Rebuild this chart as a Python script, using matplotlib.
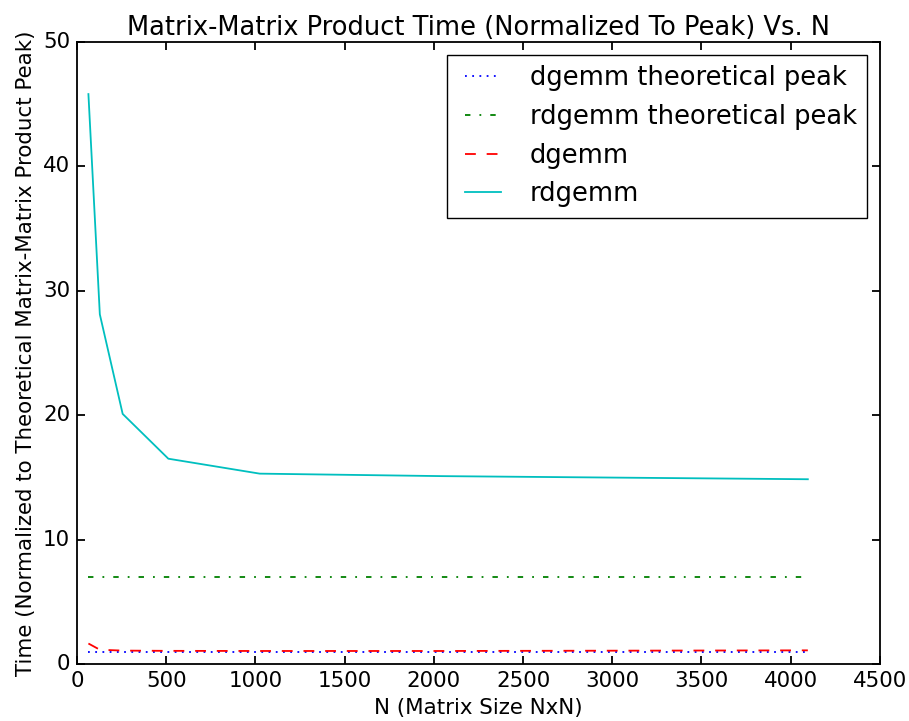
import matplotlib
matplotlib.use('Agg')
import matplotlib.pyplot as plt

plt.style.use('classic')
plt.rcParams['lines.scale_dashes'] = True
plt.rcParams['axes.linewidth'] = 1.3
plt.rcParams['xtick.major.size'] = 5.5
plt.rcParams['ytick.major.size'] = 5.5
plt.rcParams['xtick.major.width'] = 1.3
plt.rcParams['ytick.major.width'] = 1.3
plt.rcParams['xtick.major.pad'] = 5
plt.rcParams['ytick.major.pad'] = 5

# matrix sizes
n = [64, 128, 256, 512, 1024, 2048, 4096]

# time normalized to theoretical dgemm peak
dgemm_peak = [1.0, 1.0, 1.0, 1.0, 1.0, 1.0, 1.0]
rdgemm_peak = [7.0, 7.0, 7.0, 7.0, 7.0, 7.0, 7.0]
dgemm = [1.65, 1.15, 1.08, 1.06, 1.05, 1.05, 1.1]
rdgemm = [45.8, 28.1, 20.1, 16.5, 15.3, 15.1, 14.85]

fig = plt.figure(figsize=(9.09, 7.21), dpi=100)
ax = fig.add_axes([0.0847, 0.079, 0.8833, 0.863])

lw = 1.3
ax.plot(n, dgemm_peak, 'b:', lw=lw, label='dgemm theoretical peak')
ax.plot(n, rdgemm_peak, 'g-.', lw=lw, label='rdgemm theoretical peak')
ax.plot(n, dgemm, 'r--', lw=lw, label='dgemm')
ax.plot(n, rdgemm, 'c-', lw=lw, label='rdgemm')

ax.set_xlim(0, 4500)
ax.set_ylim(0, 50)
ax.set_title('Matrix-Matrix Product Time (Normalized To Peak) Vs. N', fontsize=18.5)
ax.set_xlabel('N (Matrix Size NxN)', fontsize=15.4)
ax.set_ylabel('Time (Normalized to Theoretical Matrix-Matrix Product Peak)', fontsize=15.4)
ax.tick_params(labelsize=15.4)
ax.legend(loc='upper right', fontsize=18.5)

fig.savefig('out.png', dpi=100)
